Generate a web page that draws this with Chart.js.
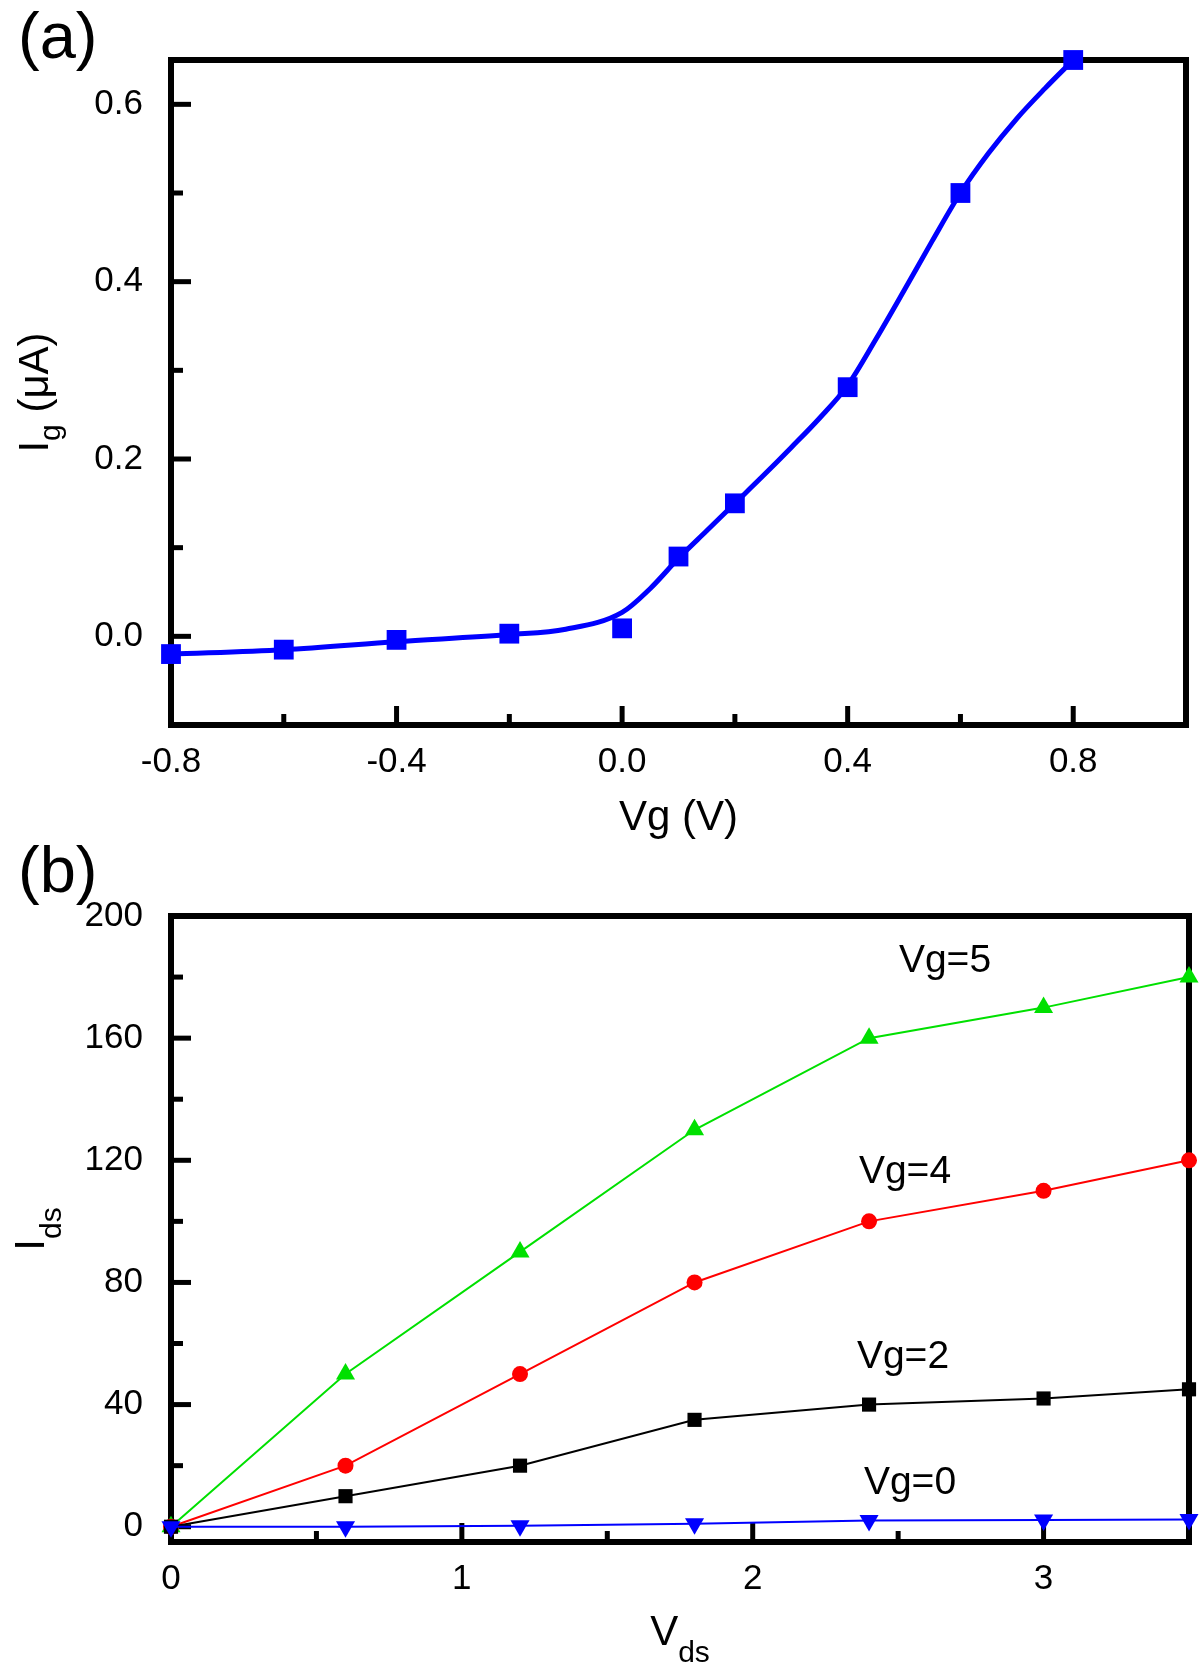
<!DOCTYPE html>
<html>
<head>
<meta charset="utf-8">
<script src="https://cdn.jsdelivr.net/npm/chart.js@4.4.1/dist/chart.umd.min.js"></script>
<style>
html,body{margin:0;padding:0;background:#fff;}
#wrap{position:relative;width:1200px;height:1673px;}
canvas{display:block;position:absolute;left:0;}
#ca{top:0;}
#cb{top:830px;}
</style>
</head>
<body>
<div id="wrap">
<canvas id="ca" width="1200" height="860"></canvas>
<canvas id="cb" width="1200" height="843"></canvas>
</div>
<script>
/* (a) gate current vs gate voltage */
const VG = [-0.8, -0.6, -0.4, -0.2, 0.0, 0.1, 0.2, 0.4, 0.6, 0.8];
const IG = [-0.020, -0.015, -0.004, 0.003, 0.009, 0.090, 0.150, 0.281, 0.500, 0.650];
// smooth fit curve
const FIT_VG = [-0.8, -0.6, -0.4, -0.2, -0.1, 0.0, 0.05, 0.1, 0.15, 0.2, 0.25, 0.3, 0.35, 0.4,
                0.45, 0.5, 0.55, 0.6, 0.65, 0.7, 0.75, 0.8];
const FIT_IG = [-0.020, -0.015, -0.006, 0.002, 0.008, 0.027, 0.054, 0.088, 0.119, 0.150, 0.181, 0.213, 0.246, 0.283,
                0.335, 0.390, 0.446, 0.500, 0.545, 0.584, 0.618, 0.650];
const A_XMAJ = [-0.8, -0.4, 0, 0.4, 0.8], A_XMIN = [-0.6, -0.2, 0.2, 0.6];
const A_YMAJ = [0, 0.2, 0.4, 0.6], A_YMIN = [0.1, 0.3, 0.5];

/* (b) output curves */
const VDS = [0, 0.6, 1.2, 1.8, 2.4, 3.0, 3.5];
const IDS_VG5 = [0, 50, 90, 130, 160, 170, 180];
const IDS_VG4 = [0, 20, 50, 80, 100, 110, 120];
const IDS_VG2 = [0, 10, 20, 35, 40, 42, 45];
const IDS_VG0 = [0, 0, 0.3, 1, 2, 2.2, 2.4];
const B_XMAJ = [0, 1, 2, 3], B_XMIN = [0.5, 1.5, 2.5];
const B_YMAJ = [0, 40, 80, 120, 160, 200], B_YMIN = [20, 60, 100, 140, 180];

const FONT = "'Liberation Sans', Arial, Helvetica, sans-serif";
const BLUE = "#0000ff", RED = "#ff0000", GREEN = "#00e000", BLACK = "#000000";
Chart.defaults.font.family = FONT;
Chart.defaults.color = "#000";

const pts = (xs, ys) => xs.map((x, i) => ({ x, y: ys[i] }));

// text with subscripts: parts = [[text, size, dy]]
function rich(ctx, parts, cx, cy, rot){
  ctx.save(); ctx.translate(cx, cy); if (rot) ctx.rotate(-Math.PI / 2);
  ctx.textBaseline = "alphabetic"; ctx.textAlign = "left"; ctx.fillStyle = "#000";
  let w = 0;
  parts.forEach(([t, s]) => { ctx.font = s + "px " + FONT; w += ctx.measureText(t).width; });
  let x = -w / 2;
  parts.forEach(([t, s, dy]) => { ctx.font = s + "px " + FONT; ctx.fillText(t, x, dy || 0); x += ctx.measureText(t).width; });
  ctx.restore();
}
function panelTag(ctx, t, y){
  ctx.save(); ctx.fillStyle = "#000"; ctx.font = "65px " + FONT;
  ctx.textAlign = "left"; ctx.textBaseline = "alphabetic";
  ctx.fillText(t, 18, y); ctx.restore();
}

// box frame + inward ticks
const frame = {
  id: "frame",
  beforeDatasetsDraw(chart, args, o){
    const { ctx, chartArea: a, scales } = chart;
    ctx.save();
    ctx.strokeStyle = "#000"; ctx.lineWidth = 6; ctx.lineCap = "butt";
    ctx.strokeRect(a.left, a.top, a.right - a.left, a.bottom - a.top);
    ctx.lineWidth = 5;
    const tx = (vals, len) => vals.forEach(v => {
      const p = scales.x.getPixelForValue(v);
      ctx.beginPath(); ctx.moveTo(p, a.bottom); ctx.lineTo(p, a.bottom - len); ctx.stroke();
    });
    const ty = (vals, len) => vals.forEach(v => {
      const p = scales.y.getPixelForValue(v);
      ctx.beginPath(); ctx.moveTo(a.left, p); ctx.lineTo(a.left + len, p); ctx.stroke();
    });
    tx(o.xMaj, 19); tx(o.xMin, 11); ty(o.yMaj, 20); ty(o.yMin, 12);
    ctx.restore();
  },
  afterDraw(chart, args, o){ if (o.text) o.text(chart.ctx, chart.chartArea); }
};

function axis(min, max, ticks, fmt, pad, fit){
  return {
    type: "linear", min, max,
    grid: { display: false }, border: { display: false },
    afterBuildTicks: s => { s.ticks = ticks.map(v => ({ value: v })); },
    afterFit: fit,
    ticks: { font: { size: 35 }, padding: pad, autoSkip: false, maxRotation: 0, callback: fmt }
  };
}

function opts(pad, xAxis, yAxis, fr){
  return {
    responsive: false, animation: false, events: [],
    layout: { padding: pad },
    plugins: { legend: { display: false }, tooltip: { enabled: false }, frame: fr },
    scales: { x: xAxis, y: yAxis }
  };
}

new Chart(document.getElementById("ca"), {
  type: "scatter",
  data: { datasets: [
    { data: pts(VG, IG), pointStyle: "rect", pointRadius: 14, pointBorderWidth: 0,
      backgroundColor: BLUE, borderColor: BLUE, showLine: false, clip: false },
    { data: pts(FIT_VG, FIT_IG), showLine: true, borderColor: BLUE, borderWidth: 5,
      pointRadius: 0, cubicInterpolationMode: "monotone", clip: false }
  ] },
  options: opts({ top: 60, right: 8, left: 0, bottom: 0 },
    axis(-0.8, 1.0, A_XMAJ, v => v.toFixed(1), 8, s => { s.height = 135; }),
    axis(-0.1, 0.65, A_YMAJ, v => v.toFixed(1), 20, s => { s.width = 171; }),
    { xMaj: A_XMAJ, xMin: A_XMIN, yMaj: A_YMAJ, yMin: A_YMIN,
      text: (ctx, a) => {
        panelTag(ctx, "(a)", 58);
        rich(ctx, [["Vg (V)", 42]], (a.left + a.right) / 2, 830);
        rich(ctx, [["I", 42], ["g", 30, 12], [" (\u03bcA)", 42]], 48, (a.top + a.bottom) / 2, true);
      } }),
  plugins: [frame]
});

const line = (ys, col, style, r, rot) => ({
  data: pts(VDS, ys), showLine: true, borderColor: col, backgroundColor: col, borderWidth: 2,
  pointStyle: style, pointRadius: r, pointRotation: rot || 0, pointBorderWidth: 0, clip: false
});

new Chart(document.getElementById("cb"), {
  type: "scatter",
  data: { datasets: [
    line(IDS_VG0, BLUE, "triangle", 11, 180),
    line(IDS_VG2, BLACK, "rect", 10),
    line(IDS_VG4, RED, "circle", 8),
    line(IDS_VG5, GREEN, "triangle", 11)
  ] },
  options: opts({ top: 86, right: 9, left: 0, bottom: 0 },
    axis(0, 3.5, B_XMAJ, v => String(v), 8, s => { s.height = 131; }),
    axis(-5, 200, B_YMAJ, v => String(v), 20, s => { s.width = 171; }),
    { xMaj: B_XMAJ, xMin: B_XMIN, yMaj: B_YMAJ, yMin: B_YMIN,
      text: (ctx, a) => {
        panelTag(ctx, "(b)", 62);
        rich(ctx, [["Vg=5", 39]], 945, 142);
        rich(ctx, [["Vg=4", 39]], 905, 353);
        rich(ctx, [["Vg=2", 39]], 903, 538);
        rich(ctx, [["Vg=0", 39]], 910, 664);
        rich(ctx, [["V", 42], ["ds", 30, 17]], (a.left + a.right) / 2, 815);
        rich(ctx, [["I", 42], ["ds", 30, 17]], 44, (a.top + a.bottom) / 2, true);
      } }),
  plugins: [frame]
});
</script>
</body>
</html>
